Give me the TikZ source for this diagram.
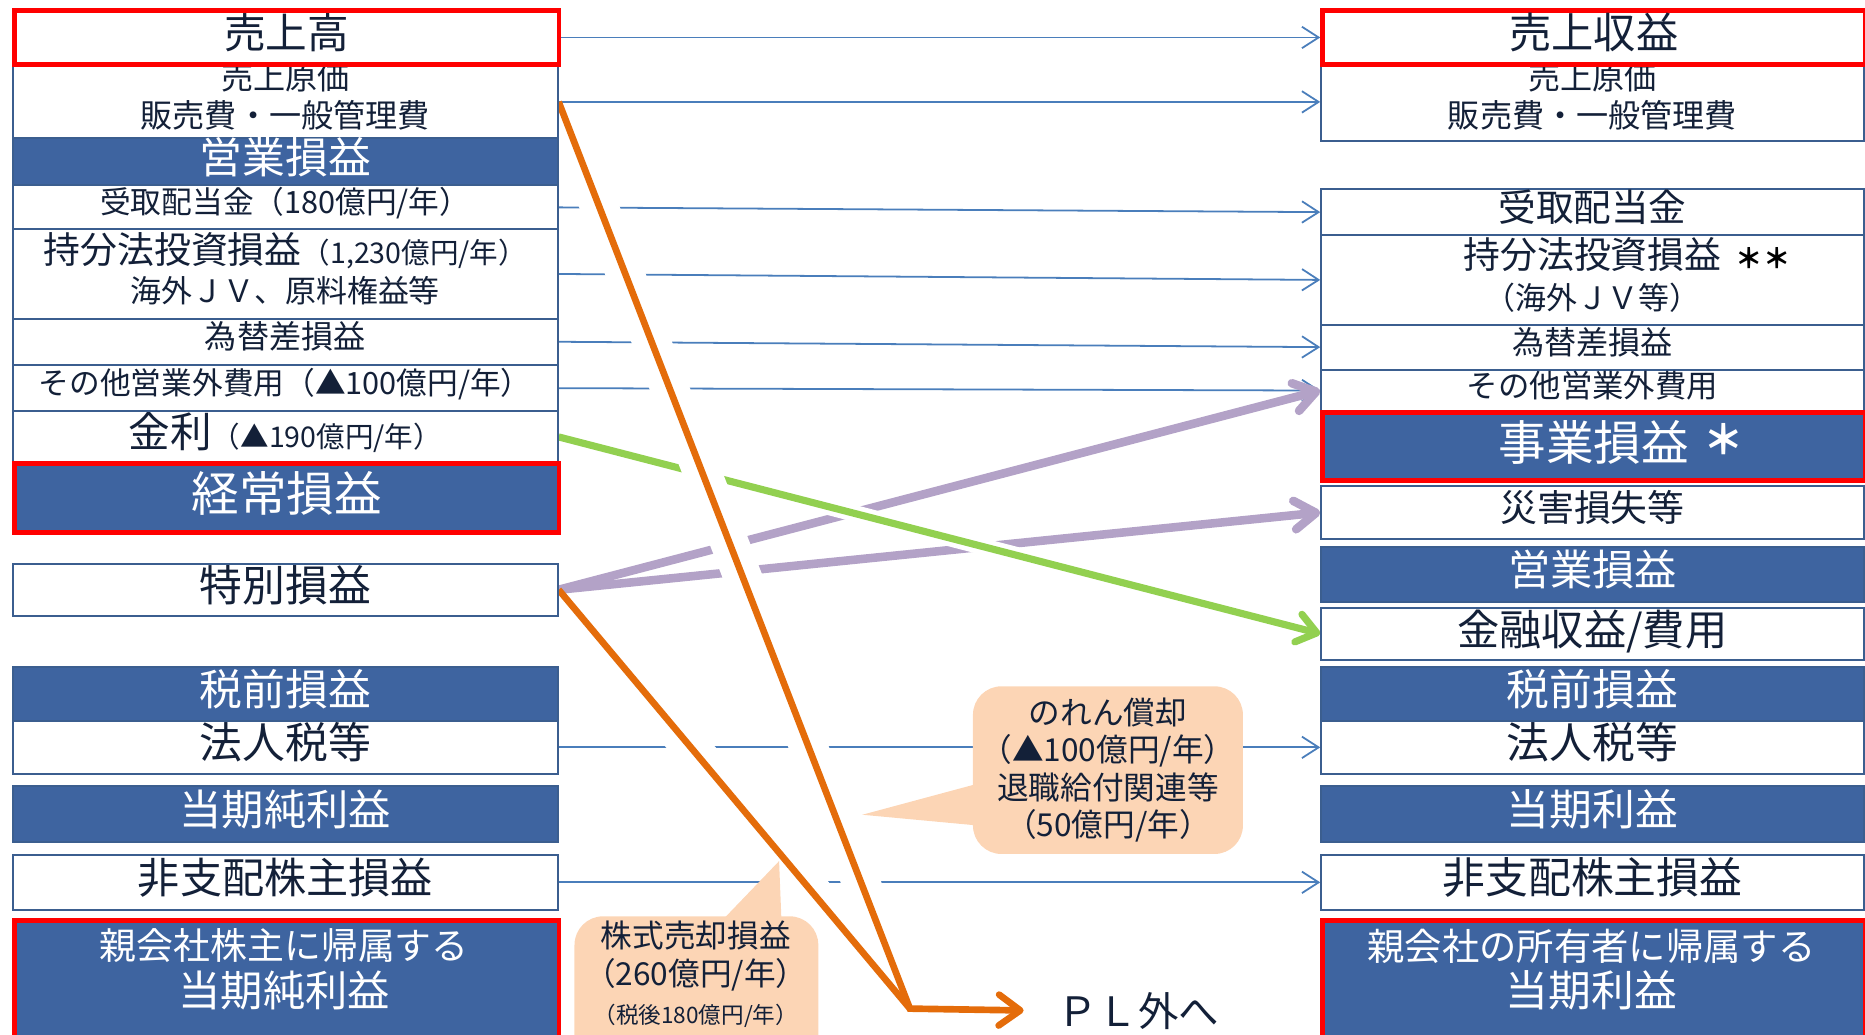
\documentclass[tikz,border=0pt]{standalone}
\usepackage{fontspec}
\setmainfont{Noto Sans CJK JP}
\usetikzlibrary{arrows.meta,calc}
\definecolor{boxblue}{HTML}{3E64A0}
\definecolor{boxline}{HTML}{3B5E8F}
\definecolor{txt}{HTML}{132038}
\definecolor{connblue}{HTML}{4A7EBB}
\definecolor{purp}{HTML}{B3A2C7}
\definecolor{grn}{HTML}{92D050}
\definecolor{org}{HTML}{E46C0A}
\definecolor{peach}{HTML}{FCD5B5}
\definecolor{redb}{HTML}{FF0000}
\newcommand\fsz[2]{\fontsize{#1}{#2}\selectfont}
\pgfdeclarelayer{bg}
\pgfsetlayers{bg,main}
\begin{document}
\begin{tikzpicture}[x=0.5pt,y=-0.5pt,
  box/.style={draw=boxline, line width=0.85pt, inner sep=0pt, anchor=north west, align=center, text depth=5.5pt},
  wbox/.style={box, fill=white, text=txt},
  bbox/.style={box, fill=boxblue, text=white},
  hot/.style={draw=redb, line width=2pt},
  lw/.style={minimum width=229pt},
  rw/.style={minimum width=228pt},
  conn/.style={draw=connblue, line width=0.75pt, -{Straight Barb[length=7pt,width=9pt]}},
  purpline/.style={draw=purp, line width=3.6pt, -{Straight Barb[length=9pt,width=12pt,round]}},
  grnline/.style={draw=grn, line width=3pt, -{Straight Barb[length=8pt,width=12pt,round]}},
  orgline/.style={draw=org, line width=2.8pt, -{Straight Barb[length=9pt,width=13pt,round]}},
  gband/.style={draw=white, line width=7pt},
  oband/.style={draw=white, line width=16pt, shorten <=10pt},
  callout/.style={fill=peach, rounded corners=12pt, inner sep=0pt, text=txt, align=center},
  ctext/.style={text=txt, align=center, inner sep=0pt}
]
\useasboundingbox (0,0) rectangle (1568,870);

% ---------- left column ----------
\node[wbox, lw, minimum height=31.5pt, font=\fsz{13.5pt}{16pt}] (L2) at (10,52) {売上原価\\販売費・一般管理費};
\node[wbox, hot, lw, minimum height=22.5pt, font=\fsz{17.5pt}{20pt}] (L1) at (10,7) {売上高};
\node[bbox, lw, minimum height=20pt, font=\fsz{18pt}{20pt}] (L3) at (10,115) {営業損益};
\node[wbox, lw, minimum height=18.5pt, font=\fsz{12.9pt}{15pt}] (L4) at (10,155) {受取配当金（180億円/年）};
\node[wbox, lw, minimum height=37.5pt, font=\fsz{13pt}{16.5pt}] (L5) at (10,192) {{\fsz{15.5pt}{16.5pt}持分法投資損益}{\fsz{12pt}{16.5pt}（1,230億円/年）}\\海外ＪＶ、原料権益等};
\node[wbox, lw, minimum height=19.5pt, font=\fsz{13.5pt}{16pt}] (L6) at (10,267) {為替差損益};
\node[wbox, lw, minimum height=19.5pt, font=\fsz{12.9pt}{15pt}] (L7) at (10,306) {その他営業外費用（▲100億円/年）};
\node[wbox, lw, minimum height=21.5pt, font=\fsz{17.5pt}{20pt}] (L8) at (10,345) {金利{\fsz{12pt}{20pt}（▲190億円/年）}};
\node[bbox, hot, lw, minimum height=29pt, font=\fsz{20pt}{22pt}] (L9) at (10,388) {経常損益};
\node[wbox, lw, minimum height=22pt, font=\fsz{18pt}{20pt}] (L10) at (10,473) {特別損益};
\node[bbox, lw, minimum height=22.5pt, font=\fsz{18pt}{20pt}] (L11) at (10,560) {税前損益};
\node[wbox, lw, minimum height=22.5pt, font=\fsz{18pt}{20pt}] (L12) at (10,605) {法人税等};
\node[bbox, lw, minimum height=23.5pt, font=\fsz{17.8pt}{20pt}] (L13) at (10,660) {当期純利益};
\node[wbox, lw, minimum height=23pt, font=\fsz{17.7pt}{20pt}] (L14) at (10,718) {非支配株主損益};
\node[bbox, hot, lw, minimum height=61.5pt] (L15) at (10,772) {};
\node[ctext, text=white, font=\fsz{17.8pt}{19.5pt}] (L15t) at (239,815) {{\fsz{15.5pt}{19.5pt}親会社株主に帰属する}\\当期純利益};

% ---------- right column ----------
\node[wbox, rw, minimum height=31.5pt, font=\fsz{13.5pt}{16pt}] (R2) at (1110,52) {売上原価\\販売費・一般管理費};
\node[wbox, hot, rw, minimum height=22.5pt, font=\fsz{17.75pt}{20pt}] (R1) at (1110,7) {売上収益};
\node[wbox, rw, minimum height=19.5pt, font=\fsz{15.8pt}{18pt}] (R3) at (1110,158) {受取配当金};
\node[wbox, rw, minimum height=37.5pt, font=\fsz{13pt}{17pt}] (R4) at (1110,197) {{\fsz{15.5pt}{17pt}持分法投資損益\rlap{\hspace{6pt}{\fsz{11.5pt}{17pt}\bfseries\color{black}＊＊}}}\\（海外ＪＶ等）};
\node[wbox, rw, minimum height=19pt, font=\fsz{13.5pt}{16pt}] (R5) at (1110,272) {為替差損益};
\node[wbox, rw, minimum height=17.5pt, font=\fsz{13.2pt}{16pt}] (R6) at (1110,310) {その他営業外費用};
\node[wbox, rw, minimum height=22pt, font=\fsz{15.5pt}{18pt}] (R8) at (1110,408) {災害損失等};
\node[bbox, hot, rw, minimum height=28.5pt, font=\fsz{20pt}{22pt}] (R7) at (1110,345) {事業損益\rlap{\hspace{6pt}\raisebox{2.5pt}{\fsz{17pt}{22pt}\bfseries ＊}}};
\node[bbox, rw, minimum height=23pt, font=\fsz{17.75pt}{20pt}] (R9) at (1110,459) {営業損益};
\node[wbox, rw, minimum height=22pt, font=\fsz{17.75pt}{20pt}] (R10) at (1110,510) {金融収益/費用};
\node[bbox, rw, minimum height=22.5pt, font=\fsz{18pt}{20pt}] (R11) at (1110,560) {税前損益};
\node[wbox, rw, minimum height=22.5pt, font=\fsz{18pt}{20pt}] (R12) at (1110,605) {法人税等};
\node[bbox, rw, minimum height=23.5pt, font=\fsz{18pt}{20pt}] (R13) at (1110,660) {当期利益};
\node[wbox, rw, minimum height=23pt, font=\fsz{18pt}{20pt}] (R14) at (1110,718) {非支配株主損益};
\node[bbox, hot, rw, minimum height=61.5pt] (R15) at (1110,772) {};
\node[ctext, text=white, font=\fsz{18pt}{19.5pt}] (R15t) at (1338,815) {{\fsz{15.7pt}{19.5pt}親会社の所有者に帰属する}\\当期利益};

% ---------- PL text ----------
\node[ctext, font=\fsz{17pt}{20pt}] (PL) at (957,850) {ＰＬ外へ};
\coordinate (OJ) at (765,848);

% ---------- connectors ----------
\begin{pgfonlayer}{bg}
\draw[conn] (L1.east) -- (R1.west);
\draw[conn] (L2.east) -- (R2.west);
\draw[conn] (L4.east) -- (R3.west);
\draw[conn] (L5.east) -- (R4.west);
\draw[conn] (L6.east) -- (R5.west);
\draw[conn] (L7.east) -- (R6.west);
\draw[conn] (L12.east) -- (R12.west);
\draw[conn] (L14.east) -- (R14.west);
\draw[purpline] (L10.east) -- (R6.west);
\draw[purpline] (L10.east) -- (R8.west);
\draw[gband, shorten <=6pt, shorten >=6pt] (L8.east) -- (R10.west);
\draw[grnline] (L8.east) -- (R10.west);
\draw[oband] (L2.east) -- (OJ);
\draw[oband] (L10.east) -- (OJ);
\draw[orgline] (L2.east) -- (OJ) -- (PL.west) [shorten >=14pt];
\draw[orgline, -] (L10.east) -- (OJ);
\end{pgfonlayer}

% ---------- callouts ----------
\node[callout, minimum width=113.5pt, minimum height=70.5pt, font=\fsz{13.3pt}{15.7pt}] (C1) at (931.5,647.5) {のれん償却\\（▲100億円/年）\\退職給付関連等\\（50億円/年）};
\coordinate (C1tip) at (725,685);
\fill[peach] ($(C1.west)+(4,11.5)$) -- (C1tip) -- ($(C1.west)+(4,46.5)$) -- cycle;

\node[callout, anchor=north, minimum width=102.5pt, minimum height=62.5pt] (C2) at (585.5,770) {};
\coordinate (C2tip) at (655,724);
\fill[peach] ($(C2.north)+(21.5,4)$) -- (C2tip) -- ($(C2.north)+(71.5,4)$) -- cycle;
\node[ctext, font=\fsz{13.3pt}{16pt}] (C2t) at (585,819) {株式売却損益\\（260億円/年）\\{\fsz{9.5pt}{15pt}（税後180億円/年）}};
\end{tikzpicture}
\end{document}
